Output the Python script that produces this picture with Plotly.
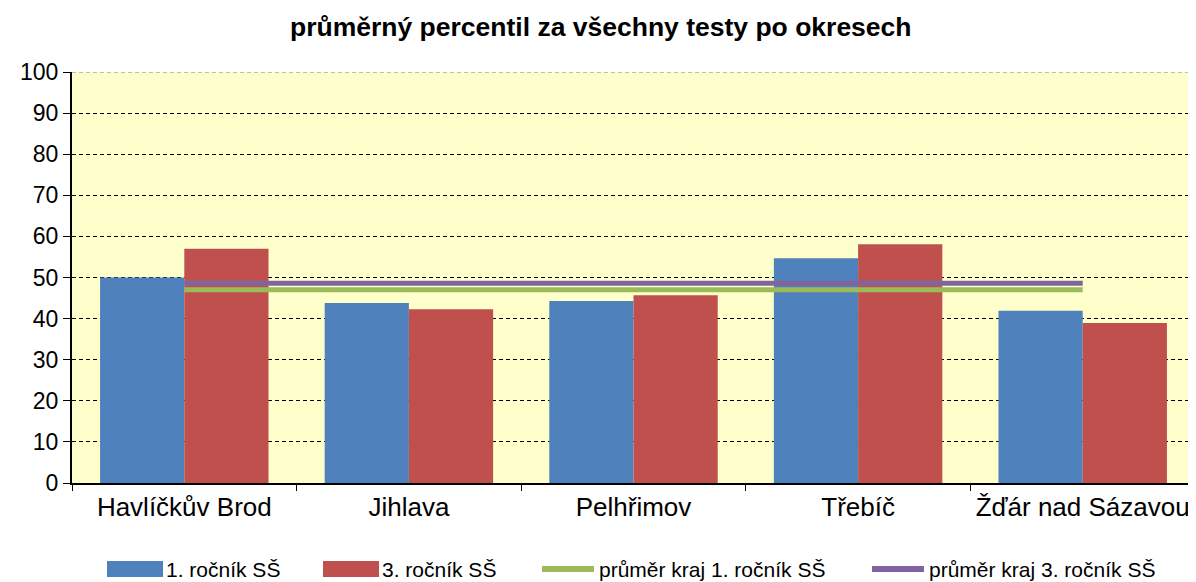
import plotly.graph_objects as go

categories = ["Havlíčkův Brod", "Jihlava", "Pelhřimov", "Třebíč", "Žďár nad Sázavou"]
rocnik1 = [50.0, 43.8, 44.3, 54.7, 41.9]
rocnik3 = [57.0, 42.3, 45.7, 58.1, 38.9]
prumer1 = [47.0] * len(categories)
prumer3 = [48.6] * len(categories)

series_names = ["1. ročník SŠ", "3. ročník SŠ", "průměr kraj 1. ročník SŠ", "průměr kraj 3. ročník SŠ"]
series_colors = ["#4F81BD", "#C0504D", "#9BBB59", "#8064A2"]
series_kinds = ["bar", "bar", "line", "line"]

font = "Liberation Sans, Arial, sans-serif"

# page offset (body margin) and target screen pixels of plot area
OX, OY = 8, 8
W, H = 1196 - OX, 582 - OY
L, R, T, B = 72 - OX, 1195 - OX, 72 - OY, 483 - OY

def px_x(px):
    return (px - OX - L) / (R - L)

def px_y(py):
    return (B - (py - OY)) / (B - T)

fig = go.Figure()
fig.add_trace(go.Bar(x=categories, y=rocnik1, name=series_names[0],
                     marker=dict(color=series_colors[0], line=dict(width=0))))
fig.add_trace(go.Bar(x=categories, y=rocnik3, name=series_names[1],
                     marker=dict(color=series_colors[1], line=dict(width=0))))
fig.add_trace(go.Scatter(x=categories, y=prumer1, name=series_names[2],
                         mode="lines", line=dict(color=series_colors[2], width=5)))
fig.add_trace(go.Scatter(x=categories, y=prumer3, name=series_names[3],
                         mode="lines", line=dict(color=series_colors[3], width=5)))

shapes = []
annotations = []
# right border and top border of plot area
shapes.append(dict(type="line", xref="paper", yref="paper", x0=1, x1=1, y0=0, y1=1,
                   line=dict(color="#A6A6A6", width=1)))
shapes.append(dict(type="line", xref="paper", yref="y", x0=0, x1=1, y0=100, y1=100,
                   line=dict(color="#808080", width=1, dash="4px,3px")))

# custom legend (wide symbols like the original)
legend_sym_x = [107, 323, 540, 870]
sym_w = 56
leg_cy = 569
for name, color, kind, x0 in zip(series_names, series_colors, series_kinds, legend_sym_x):
    if kind == "bar":
        shapes.append(dict(type="rect", xref="paper", yref="paper",
                           x0=px_x(x0), x1=px_x(x0 + sym_w),
                           y0=px_y(leg_cy + 8), y1=px_y(leg_cy - 8),
                           fillcolor=color, line=dict(width=0)))
    else:
        shapes.append(dict(type="line", xref="paper", yref="paper",
                           x0=px_x(x0 + 2), x1=px_x(x0 + sym_w - 2),
                           y0=px_y(leg_cy), y1=px_y(leg_cy),
                           line=dict(color=color, width=6)))
    annotations.append(dict(text=name, xref="paper", yref="paper",
                            x=px_x(x0 + sym_w + 1), y=px_y(leg_cy),
                            xanchor="left", yanchor="middle", showarrow=False,
                            font=dict(size=21, family=font, color="black")))

# title
annotations.append(dict(text="<b>průměrný percentil za všechny testy po okresech</b>",
                        xref="paper", yref="paper", x=px_x(601), y=px_y(27),
                        xanchor="center", yanchor="middle", showarrow=False,
                        font=dict(size=26.5, family=font, color="black")))

fig.update_layout(
    width=W, height=H,
    margin=dict(l=L, r=W - R, t=T, b=H - B, autoexpand=False),
    paper_bgcolor="white",
    plot_bgcolor="#FFFFCC",
    barmode="group",
    bargap=0.25,
    bargroupgap=0,
    font=dict(family=font, color="black"),
    showlegend=False,
    shapes=shapes,
    annotations=annotations,
)
fig.update_xaxes(
    showline=True, linecolor="black", linewidth=2,
    ticks="outside", tickson="boundaries", ticklen=6, tickcolor="black",
    tickfont=dict(size=26, family=font), tickangle=0, showgrid=False,
    automargin=False,
)
fig.update_yaxes(
    range=[0, 100], dtick=10,
    showline=True, linecolor="black", linewidth=2,
    ticks="outside", ticklen=7, tickcolor="black",
    tickfont=dict(size=23, family=font),
    showgrid=True, gridcolor="black", gridwidth=1, griddash="4px,3px",
    zeroline=False, automargin=False,
)
fig.write_html("out.html")
